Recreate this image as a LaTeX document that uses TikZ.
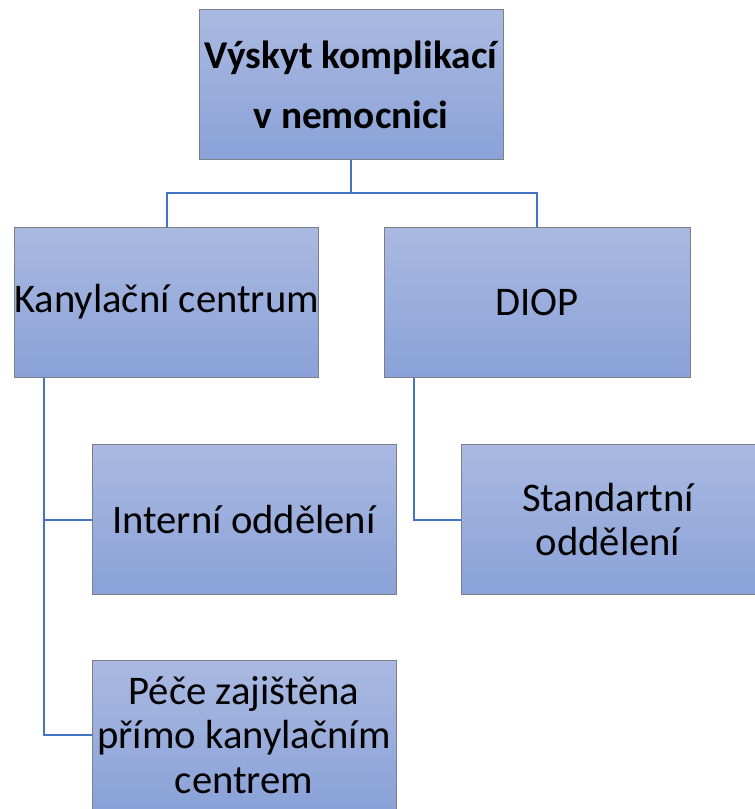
\documentclass[tikz,border=0pt]{standalone}
\usepackage{fontspec}
\setmainfont{Carlito}
\usetikzlibrary{positioning}
\definecolor{boxtop}{HTML}{AAB9E1}
\definecolor{boxbot}{HTML}{8AA2D8}
\definecolor{boxline}{HTML}{7A7F8A}
\definecolor{linkblue}{HTML}{4472C4}

\tikzset{
  orgbox/.style={draw=boxline, line width=0.75pt, top color=boxtop, bottom color=boxbot,
    minimum width=228pt, minimum height=112.5pt, align=center, inner sep=0pt,
    font=\fontsize{30.5}{33.5}\selectfont},
  headbox/.style={orgbox, font=\bfseries\fontsize{29.5}{45}\selectfont},
  link/.style={draw=linkblue, line width=1.5pt}
}

\begin{document}
\begin{tikzpicture}[x=0.75pt,y=0.75pt,yscale=-1,xscale=1]
    \useasboundingbox (0,0) rectangle (755,809);

    % Boxes
    \node[headbox] (top) at (351,85) {Výskyt komplikací\\v nemocnici};
    \node[orgbox] (kc) at (166.5,302) {Kanylační centrum};
    \node[orgbox, minimum width=229.5pt] (diop) at (537,302) {DIOP};
    \node[orgbox] (interni) at (244,519.5) {Interní oddělení};
    \node[orgbox, minimum width=220.5pt] (standard) at (608,519.5) {Standartní\\oddělení};
    \node[orgbox] (pece) at (244,735) {Péče zajištěna\\přímo kanylačním\\centrem};

    % Connectors
    \coordinate (split) at (351,193);
    \coordinate (kcstem) at ([xshift=22.5pt]kc.south west);
    \coordinate (diopstem) at ([xshift=22.5pt]diop.south west);
    \draw[link] (top.south) -- (split);
    \draw[link] (kc.north) |- (split) -| (diop.north);
    \draw[link] (kcstem) |- (interni.west);
    \draw[link] (kcstem) |- (pece.west);
    \draw[link] (diopstem) |- (standard.west);

\end{tikzpicture}
\end{document}
